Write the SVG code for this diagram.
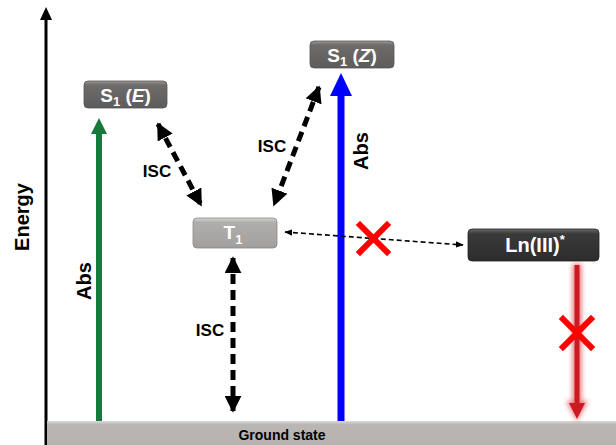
<svg xmlns="http://www.w3.org/2000/svg" width="616" height="445" viewBox="0 0 616 445">
<style>
text{font-family:"Liberation Sans",Arial,sans-serif;font-weight:bold}
.lbl{font-size:17px;fill:#000}
.abs{font-size:20px;fill:#000}
.box{font-size:19px;fill:#fff}
.sub{font-size:13px}
.isc{stroke:#000;stroke-width:5;stroke-dasharray:10 6;fill:none}
</style>
<defs>
<linearGradient id="gDark" x1="0" y1="0" x2="0" y2="1">
<stop offset="0" stop-color="#9a9896"/><stop offset="0.15" stop-color="#6e6c6a"/><stop offset="1" stop-color="#5e5c5a"/>
</linearGradient>
<linearGradient id="gLight" x1="0" y1="0" x2="0" y2="1">
<stop offset="0" stop-color="#d6d4d2"/><stop offset="0.15" stop-color="#b0aeac"/><stop offset="1" stop-color="#a2a09e"/>
</linearGradient>
<linearGradient id="gBlack" x1="0" y1="0" x2="0" y2="1">
<stop offset="0" stop-color="#6a6a6a"/><stop offset="0.15" stop-color="#3a3a3a"/><stop offset="1" stop-color="#2c2c2c"/>
</linearGradient>
<linearGradient id="gGround" x1="0" y1="0" x2="0" y2="1">
<stop offset="0" stop-color="#dcdad8"/><stop offset="0.15" stop-color="#bab6b4"/><stop offset="1" stop-color="#b6b2b0"/>
</linearGradient>
<filter id="glow" x="-100%" y="-10%" width="300%" height="120%">
<feGaussianBlur stdDeviation="2.5"/>
</filter>
<marker id="hBlk" viewBox="0 0 10 10" refX="9" refY="5" markerWidth="3.4" markerHeight="3.4" orient="auto-start-reverse">
<path d="M0,0 L10,5 L0,10 Z" fill="#000"/>
</marker>
<marker id="hThin" viewBox="0 0 10 10" refX="9" refY="5" markerWidth="5" markerHeight="5" orient="auto-start-reverse">
<path d="M0,1 L10,5 L0,9 Z" fill="#000"/>
</marker>
</defs>

<g id="axis">
<line x1="46" y1="18" x2="46" y2="445" stroke="#000" stroke-width="3"/>
<path d="M40,20 L46,7 L52,20 Z" fill="#000"/>
<text transform="translate(29,217) rotate(-90)" text-anchor="middle" style="font-size:20px">Energy</text>
</g>

<g id="ground">
<rect x="47" y="421" width="569" height="24" fill="url(#gGround)"/>
<text x="282" y="440" text-anchor="middle" style="font-size:14px" fill="#000">Ground state</text>
</g>

<g id="connectors">
<line x1="99" y1="421" x2="99" y2="132" stroke="#177a3c" stroke-width="6"/>
<path d="M91,134 L99,118 L107,134 Z" fill="#177a3c"/>
<text class="abs" transform="translate(91,281) rotate(-90)" text-anchor="middle">Abs</text>
<line x1="341" y1="421" x2="341" y2="92" stroke="#0000ff" stroke-width="7"/>
<path d="M330,96 L341,73 L352,96 Z" fill="#0000ff"/>
<text class="abs" transform="translate(368,151) rotate(-90)" text-anchor="middle">Abs</text>
<line class="isc" x1="158" y1="124" x2="201" y2="205" marker-start="url(#hBlk)" marker-end="url(#hBlk)"/>
<text class="lbl" x="157" y="177" text-anchor="middle">ISC</text>
<line class="isc" x1="319" y1="87" x2="274" y2="205" marker-start="url(#hBlk)" marker-end="url(#hBlk)"/>
<text class="lbl" x="272" y="152" text-anchor="middle">ISC</text>
<line class="isc" x1="233" y1="258" x2="233" y2="411" marker-start="url(#hBlk)" marker-end="url(#hBlk)"/>
<text class="lbl" x="210" y="336" text-anchor="middle">ISC</text>
<line x1="285" y1="232" x2="463" y2="245" stroke="#000" stroke-width="1.6" stroke-dasharray="5 3" marker-start="url(#hThin)" marker-end="url(#hThin)"/>
<g stroke="#ff0000" stroke-width="6" stroke-linecap="square">
<line x1="360" y1="225" x2="387" y2="252"/><line x1="387" y1="225" x2="360" y2="252"/>
</g>
<g filter="url(#glow)" opacity="0.7">
<line x1="577" y1="264" x2="577" y2="405" stroke="#e04048" stroke-width="9"/>
<path d="M566,401 L577,421 L588,401 Z" fill="#e04048"/>
</g>
<line x1="577" y1="265" x2="577" y2="405" stroke="#cc1a22" stroke-width="5"/>
<path d="M569,403 L577,419 L585,403 Z" fill="#cc1a22"/>
<g stroke="#ff0000" stroke-width="6" stroke-linecap="square">
<line x1="563" y1="319" x2="591" y2="347"/><line x1="591" y1="319" x2="563" y2="347"/>
</g>
</g>

<g id="S1E">
<rect x="84" y="81" width="83" height="27" rx="4" fill="url(#gDark)" stroke="#555" stroke-width="0.8"/>
<text class="box" x="125.5" y="102" text-anchor="middle">S<tspan class="sub" dy="4">1</tspan><tspan dy="-4"> (</tspan><tspan font-style="italic">E</tspan>)</text>
</g>
<g id="S1Z">
<rect x="310" y="41" width="84" height="27" rx="4" fill="url(#gDark)" stroke="#555" stroke-width="0.8"/>
<text class="box" x="352" y="62" text-anchor="middle">S<tspan class="sub" dy="4">1</tspan><tspan dy="-4"> (</tspan><tspan font-style="italic">Z</tspan>)</text>
</g>
<g id="T1">
<rect x="193" y="218" width="84" height="30" rx="4" fill="url(#gLight)" stroke="#888" stroke-width="0.8"/>
<text class="box" x="233" y="239" text-anchor="middle">T<tspan class="sub" dy="5">1</tspan></text>
</g>
<g id="Ln">
<rect x="468" y="229" width="131" height="32" rx="4" fill="url(#gBlack)" stroke="#222" stroke-width="0.8"/>
<text class="box" x="535" y="252" text-anchor="middle" style="font-size:20px">Ln(III)<tspan class="sub" dy="-8">*</tspan></text>
</g>
</svg>
